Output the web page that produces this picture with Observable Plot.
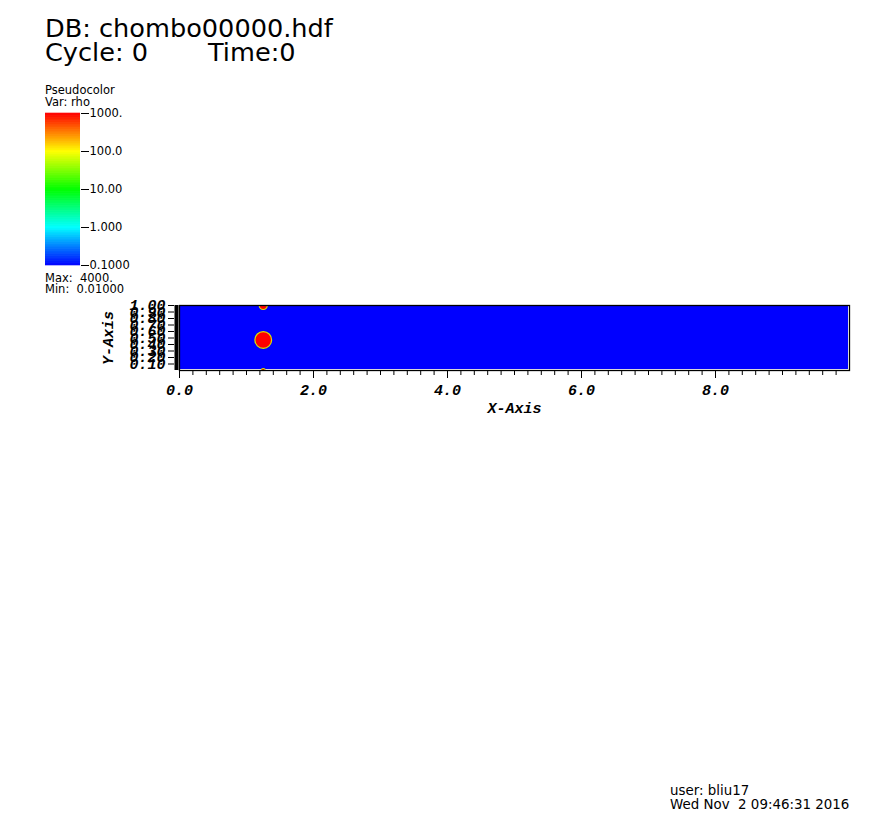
<!DOCTYPE html>
<html>
<head>
<meta charset="utf-8">
<script src="https://cdn.jsdelivr.net/npm/d3@7"></script>
<script src="https://cdn.jsdelivr.net/npm/@observablehq/plot@0.6"></script>
<style>
  body { margin: 0; background: #fff; }
  #page { position: relative; width: 895px; height: 823px; overflow: hidden; font-family: "DejaVu Sans", sans-serif; color: #000; }
  .abs { position: absolute; white-space: pre; line-height: 1; }
  #main, #legend { position: absolute; }
  #main { left: 0; top: 0; }
  #legend { left: 45px; top: 105px; }
</style>
</head>
<body>
<div id="page">
  <div class="abs" style="left:45px; top:15.5px; font-size:25.6px;">DB: chombo00000.hdf</div>
  <div class="abs" style="left:45px; top:40px; font-size:25.6px;">Cycle: 0</div>
  <div class="abs" style="left:208px; top:40px; font-size:25.6px;">Time:0</div>
  <div class="abs" style="left:45px; top:84.5px; font-size:11.5px;">Pseudocolor</div>
  <div class="abs" style="left:45px; top:96.5px; font-size:11.5px;">Var: rho</div>
  <div class="abs" style="left:45px; top:272.5px; font-size:11.5px;">Max:  4000.</div>
  <div class="abs" style="left:45px; top:283.5px; font-size:11.5px;">Min:  0.01000</div>
  <div class="abs" style="left:670px; top:784px; font-size:13.4px;">user: bliu17</div>
  <div class="abs" style="left:670px; top:798px; font-size:13.4px;">Wed Nov  2 09:46:31 2016</div>
  <div id="main"></div>
  <div id="legend"></div>
</div>
<script>
// ---- data ----
const xDomain = [0, 10];
const yDomain = [0, 1];
const fieldRho = 0.01;                 // background density (below colour-table min)
const bubbleX = [1.25, 1.25, 1.25];
const bubbleY = [0.47, 1.0, 0.0];
const bubbleR = [0.125, 0.06, 0.03];   // radius in data units
const bubbleRho = [1000, 1000, 1000];
const xTicks = [0, 2, 4, 6, 8];
const xTickLabels = ["0.0", "2.0", "4.0", "6.0", "8.0"];
const xMinorTicks = [0.2,0.4,0.6,0.8,1,1.2,1.4,1.6,1.8,2.2,2.4,2.6,2.8,3,3.2,3.4,3.6,3.8,4.2,4.4,4.6,4.8,5,5.2,5.4,5.6,5.8,6.2,6.4,6.6,6.8,7,7.2,7.4,7.6,7.8,8.2,8.4,8.6,8.8,9,9.2,9.4,9.6,9.8];
const yTicks = [0.1, 0.2, 0.3, 0.4, 0.5, 0.6, 0.7, 0.8, 0.9, 1.0];
const yTickLabels = ["0.10","0.20","0.30","0.40","0.50","0.60","0.70","0.80","0.90","1.00"];
const legendTicks = [0.1, 1, 10, 100, 1000];
const legendLabels = ["0.1000", "1.000", "10.00", "100.0", "1000."];
const colorMin = 0.1, colorMax = 1000;

const colorScale = {type: "log", domain: [colorMin, colorMax], interpolate: d3.interpolateHslLong("blue", "red"), clamp: true};

const bubbles = bubbleX.map((x, i) => ({x, y: bubbleY[i], r: bubbleR[i], rho: bubbleRho[i]}));
const field = [{x1: xDomain[0], x2: xDomain[1], y1: yDomain[0], y2: yDomain[1], rho: fieldRho}];

const axisFont = {fontFamily: "Liberation Mono", fontWeight: "bold", fontStyle: "italic", fontSize: 15};

const main = Plot.plot({
  width: 895,
  height: 430,
  marginLeft: 179,
  marginRight: 46,
  marginTop: 305,
  marginBottom: 60,
  x: {domain: xDomain},
  y: {domain: yDomain},
  r: {type: "linear", domain: [0, 1], range: [0, 67]},
  color: colorScale,
  style: {fontFamily: "Liberation Mono", fontWeight: "bold", fontStyle: "italic", fontSize: "15px", background: "transparent"},
  marks: [
    Plot.rect(field, {x1: "x1", x2: "x2", y1: "y1", y2: "y2", fill: "rho", inset: 1}),
    Plot.dot(bubbles, {x: "x", y: "y", r: "r", fill: "rho", stroke: "#d8e400", strokeWidth: 1.2, clip: true}),
    Plot.frame({stroke: "black", strokeWidth: 1.3}),
    Plot.ruleX([0], {stroke: "black", strokeWidth: 4, dx: -3}),
    Plot.axisY({ticks: yTicks, tickSize: 6, dx: -5, tickPadding: 3, tickFormat: d => yTickLabels[yTicks.indexOf(d)], label: null, ...axisFont}),
    Plot.axisX({ticks: xMinorTicks, tickSize: 5, tickFormat: () => "", label: null}),
    Plot.axisX({ticks: xTicks, tickSize: 8, tickPadding: 6, tickFormat: d => xTickLabels[xTicks.indexOf(d)], label: null, ...axisFont}),
    Plot.text(["X-Axis"], {frameAnchor: "bottom", dy: 38, lineAnchor: "middle", textAnchor: "middle", ...axisFont}),
    Plot.text(["Y-Axis"], {frameAnchor: "left", dx: -71, rotate: -90, lineAnchor: "middle", textAnchor: "middle", ...axisFont})
  ]
});
document.getElementById("main").appendChild(main);

// ---- colour bar legend ----
const nSteps = 240;
const lg0 = Math.log10(colorMin), lg1 = Math.log10(colorMax);
const bands = d3.range(nSteps).map(i => ({
  lo: 10 ** (lg0 + (lg1 - lg0) * i / nSteps),
  hi: 10 ** (lg0 + (lg1 - lg0) * (i + 1) / nSteps)
}));

const legend = Plot.plot({
  width: 130,
  height: 168,
  marginLeft: 0,
  marginRight: 95,
  marginTop: 8,
  marginBottom: 8,
  x: {domain: [0, 1], axis: null},
  y: {type: "log", domain: [colorMin, colorMax]},
  color: colorScale,
  style: {fontFamily: "DejaVu Sans", fontSize: "11.5px", background: "transparent"},
  marks: [
    Plot.rect(bands, {x1: 0, x2: 1, y1: "lo", y2: "hi", fill: d => Math.sqrt(d.lo * d.hi), insetTop: -0.3, insetBottom: -0.3}),
    Plot.axisY({anchor: "right", ticks: legendTicks, tickSize: 8, tickPadding: 1, tickFormat: d => legendLabels[legendTicks.indexOf(d)], label: null, fontSize: 11.5})
  ]
});
document.getElementById("legend").appendChild(legend);
</script>
</body>
</html>
